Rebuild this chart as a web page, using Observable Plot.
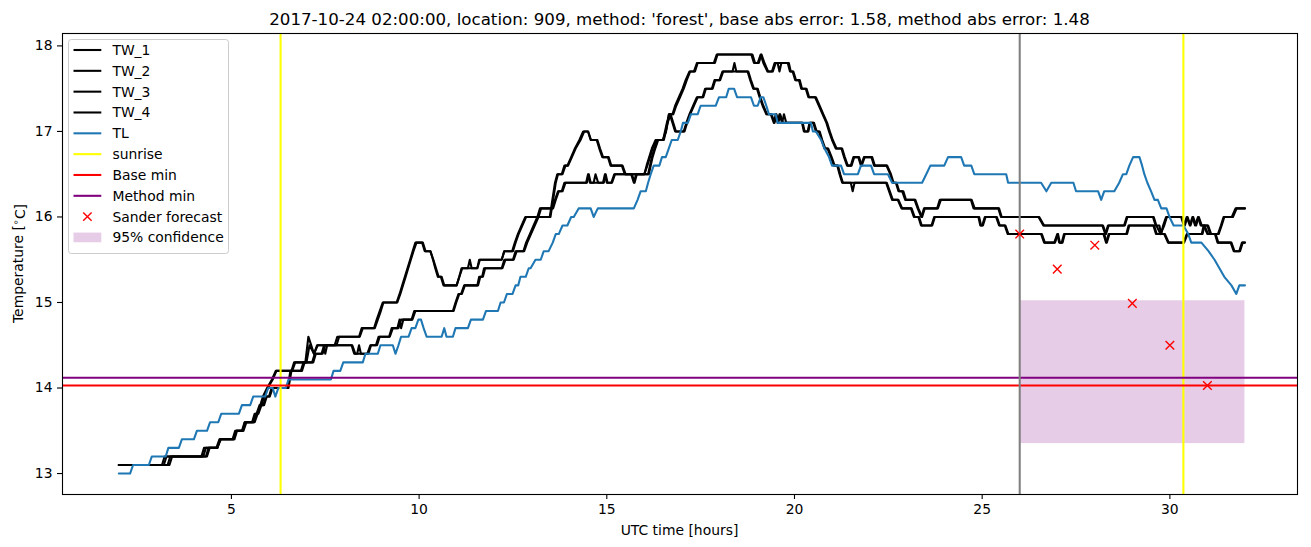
<!DOCTYPE html>
<html><head><meta charset="utf-8">
<script src="https://cdn.jsdelivr.net/npm/d3@7"></script>
<script src="https://cdn.jsdelivr.net/npm/@observablehq/plot@0.6"></script>
<style>body{margin:0;background:#fff;} svg{display:block}</style>
</head><body><div id="chart"></div>
<script>
// ---------- data (hour, temperature) ----------
const TW_1 = [[2.0,13.1],[3.15,13.1],[3.22,13.2],[4.2,13.2],[4.27,13.3],[4.62,13.3],[4.7,13.4],[5.05,13.4],[5.12,13.5],[5.3,13.5],[5.36,13.6],[5.55,13.6],[5.62,13.7],[5.7,13.7],[5.77,13.8],[5.84,13.9],[5.95,14.0],[6.08,14.1],[6.18,14.2],[6.6,14.2],[6.67,14.3],[6.97,14.3],[7.05,14.6],[7.2,14.4],[7.28,14.5],[7.45,14.5],[7.5,14.4],[7.55,14.5],[7.75,14.5],[7.82,14.6],[8.4,14.6],[8.47,14.7],[8.8,14.7],[8.87,14.8],[8.95,14.9],[9.03,15.0],[9.4,15.0],[9.48,15.1],[9.55,15.2],[9.62,15.3],[9.69,15.4],[9.76,15.5],[9.83,15.6],[9.9,15.7],[10.1,15.7],[10.17,15.6],[10.3,15.6],[10.37,15.5],[10.43,15.4],[10.5,15.3],[10.58,15.3],[10.65,15.2],[11.0,15.2],[11.07,15.3],[11.13,15.4],[11.55,15.4],[11.62,15.5],[12.2,15.5],[12.27,15.6],[12.5,15.6],[12.57,15.7],[12.65,15.8],[12.75,15.9],[12.85,16.0],[13.5,16.0],[13.57,16.2],[13.64,16.4],[13.7,16.5],[13.8,16.5],[13.87,16.6],[13.95,16.6],[14.05,16.7],[14.15,16.8],[14.27,16.9],[14.37,17.0],[14.5,17.0],[14.57,16.9],[14.75,16.9],[14.82,16.8],[14.9,16.7],[15.05,16.7],[15.12,16.6],[15.4,16.6],[15.48,16.5],[16.0,16.5],[16.06,16.6],[16.13,16.7],[16.2,16.8],[16.3,16.9],[16.5,16.9],[16.57,17.0],[16.65,17.2],[16.75,17.2],[16.82,17.3],[16.92,17.4],[17.02,17.5],[17.1,17.6],[17.2,17.7],[17.32,17.7],[17.4,17.8],[17.85,17.8],[17.93,17.9],[18.85,17.9],[18.92,17.8],[19.02,17.8],[19.1,17.9],[19.17,17.8],[19.28,17.7],[19.4,17.7],[19.47,17.8],[19.55,17.8],[19.6,17.7],[19.65,17.8],[19.82,17.8],[19.88,17.7],[19.95,17.7],[20.02,17.6],[20.12,17.6],[20.18,17.5],[20.3,17.5],[20.37,17.4],[20.55,17.4],[20.65,17.3],[20.75,17.2],[20.85,17.1],[20.92,17.0],[21.0,16.9],[21.1,16.8],[21.25,16.8],[21.32,16.7],[21.4,16.6],[21.5,16.6],[21.57,16.7],[21.7,16.7],[21.77,16.6],[21.85,16.7],[22.05,16.7],[22.12,16.6],[22.45,16.6],[22.55,16.5],[22.62,16.4],[22.7,16.4],[22.77,16.3],[22.87,16.3],[22.95,16.2],[23.2,16.2],[23.28,16.1],[23.38,16.0],[23.45,16.1],[23.8,16.1],[23.87,16.2],[24.7,16.2],[24.77,16.1],[25.43,16.1],[25.5,16.0],[26.5,16.0],[26.63,15.9],[28.2,15.9],[28.28,15.8],[28.35,15.9],[28.8,15.9],[28.87,16.0],[29.55,16.0],[29.62,15.9],[29.72,15.9],[29.77,15.8],[29.82,15.9],[29.9,16.0],[30.3,16.0],[30.37,15.9],[30.45,16.0],[30.53,15.9],[30.6,16.0],[30.67,15.9],[30.75,16.0],[30.82,15.9],[31.0,15.9],[31.07,15.8],[31.3,15.8],[31.38,15.9],[31.45,16.0],[31.65,16.0],[31.75,16.1],[32.0,16.1]];

const TW_2 = [[2.0,13.1],[3.2,13.1],[3.27,13.2],[4.25,13.2],[4.32,13.3],[4.62,13.3],[4.72,13.4],[5.08,13.4],[5.15,13.5],[5.32,13.5],[5.4,13.6],[5.58,13.6],[5.65,13.7],[5.72,13.7],[5.8,13.8],[5.87,13.9],[5.97,14.0],[6.1,14.1],[6.2,14.2],[6.62,14.2],[6.7,14.3],[7.0,14.3],[7.08,14.5],[7.2,14.4],[7.3,14.5],[7.8,14.5],[7.87,14.6],[8.42,14.6],[8.5,14.7],[8.82,14.7],[8.9,14.8],[8.98,14.9],[9.05,15.0],[9.42,15.0],[9.5,15.1],[9.57,15.2],[9.64,15.3],[9.71,15.4],[9.78,15.5],[9.85,15.6],[9.93,15.7],[10.08,15.7],[10.15,15.6],[10.3,15.6],[10.38,15.5],[10.45,15.4],[10.52,15.3],[10.6,15.3],[10.67,15.2],[11.0,15.2],[11.07,15.3],[11.15,15.4],[11.3,15.4],[11.35,15.5],[11.4,15.4],[11.55,15.4],[11.6,15.5],[12.2,15.5],[12.27,15.6],[12.48,15.6],[12.55,15.7],[12.63,15.8],[12.73,15.9],[12.83,16.0],[13.48,16.0],[13.55,16.2],[13.62,16.4],[13.68,16.5],[13.82,16.5],[13.9,16.6],[13.97,16.6],[14.07,16.7],[14.17,16.8],[14.3,16.9],[14.4,17.0],[14.5,17.0],[14.58,16.9],[14.73,16.9],[14.8,16.8],[14.88,16.7],[15.03,16.7],[15.1,16.6],[15.42,16.6],[15.5,16.5],[16.0,16.5],[16.08,16.6],[16.15,16.7],[16.22,16.8],[16.32,16.9],[16.5,16.9],[16.58,17.0],[16.66,17.2],[16.77,17.2],[16.85,17.3],[16.95,17.4],[17.05,17.5],[17.13,17.6],[17.22,17.7],[17.35,17.7],[17.42,17.8],[17.88,17.8],[17.95,17.9],[18.88,17.9],[18.95,17.8],[19.05,17.8],[19.12,17.9],[19.2,17.8],[19.3,17.7],[19.42,17.7],[19.5,17.8],[19.85,17.8],[19.9,17.7],[19.97,17.7],[20.04,17.6],[20.14,17.6],[20.2,17.5],[20.32,17.5],[20.39,17.4],[20.57,17.4],[20.67,17.3],[20.77,17.2],[20.87,17.1],[20.94,17.0],[21.02,16.9],[21.12,16.8],[21.27,16.8],[21.34,16.7],[21.42,16.6],[21.52,16.6],[21.59,16.7],[21.72,16.7],[21.79,16.6],[21.87,16.7],[22.07,16.7],[22.14,16.6],[22.47,16.6],[22.57,16.5],[22.64,16.4],[22.72,16.4],[22.79,16.3],[22.9,16.3],[22.97,16.2],[23.22,16.2],[23.3,16.1],[23.4,16.0],[23.47,16.1],[23.82,16.1],[23.9,16.2],[24.72,16.2],[24.8,16.1],[25.45,16.1],[25.52,16.0],[26.52,16.0],[26.65,15.9],[28.22,15.9],[28.3,15.8],[28.37,15.9],[28.78,15.9],[28.85,16.0],[29.57,16.0],[29.64,15.9],[29.75,15.8],[29.85,15.9],[29.92,16.0],[30.32,16.0],[30.4,15.9],[30.47,16.0],[30.55,15.9],[30.62,16.0],[30.7,15.9],[30.77,16.0],[30.85,15.9],[31.02,15.9],[31.1,15.8],[31.28,15.8],[31.36,15.9],[31.43,16.0],[31.68,16.0],[31.78,16.1],[32.0,16.1]];

const TW_3 = [[2.0,13.1],[3.3,13.1],[3.37,13.2],[4.32,13.2],[4.39,13.3],[4.6,13.3],[4.68,13.4],[5.03,13.4],[5.1,13.5],[5.28,13.5],[5.35,13.6],[5.6,13.6],[5.67,13.7],[5.75,13.8],[5.85,13.8],[5.92,13.9],[6.0,13.9],[6.07,14.0],[6.5,14.0],[6.57,14.2],[6.85,14.2],[6.92,14.3],[7.15,14.3],[7.22,14.4],[7.4,14.4],[7.47,14.5],[8.2,14.5],[8.27,14.4],[8.35,14.4],[8.4,14.5],[8.45,14.4],[8.62,14.4],[8.7,14.5],[8.85,14.5],[8.92,14.6],[9.2,14.6],[9.27,14.7],[9.42,14.7],[9.48,14.8],[9.52,14.7],[9.58,14.8],[9.8,14.8],[9.87,14.9],[10.9,14.9],[10.97,15.0],[11.05,15.1],[11.12,15.1],[11.2,15.2],[11.55,15.2],[11.6,15.3],[11.68,15.3],[11.73,15.4],[12.2,15.4],[12.27,15.5],[12.5,15.5],[12.57,15.6],[12.78,15.6],[12.85,15.7],[12.95,15.8],[13.05,15.9],[13.15,16.0],[13.22,16.1],[13.55,16.1],[13.62,16.2],[13.7,16.3],[13.8,16.3],[13.87,16.4],[14.45,16.4],[14.5,16.5],[14.55,16.4],[14.65,16.4],[14.7,16.5],[14.77,16.4],[14.9,16.4],[14.95,16.5],[15.0,16.4],[15.12,16.4],[15.2,16.5],[15.65,16.5],[15.72,16.4],[15.78,16.5],[16.1,16.5],[16.15,16.6],[16.2,16.7],[16.27,16.8],[16.35,16.9],[16.5,16.9],[16.6,17.1],[16.68,17.2],[16.75,17.1],[16.82,17.0],[17.05,17.0],[17.12,17.1],[17.2,17.2],[17.3,17.3],[17.4,17.4],[17.55,17.4],[17.62,17.5],[17.8,17.5],[17.87,17.6],[18.0,17.6],[18.08,17.7],[18.35,17.7],[18.4,17.8],[18.45,17.7],[18.75,17.7],[18.82,17.6],[18.9,17.5],[19.0,17.5],[19.07,17.4],[19.15,17.3],[19.25,17.2],[19.37,17.2],[19.45,17.1],[19.5,17.2],[19.55,17.1],[19.6,17.2],[19.67,17.1],[19.72,17.2],[19.78,17.1],[20.2,17.1],[20.25,17.0],[20.35,17.0],[20.4,17.1],[20.5,17.1],[20.57,17.0],[20.65,17.0],[20.72,16.9],[20.8,16.8],[20.88,16.8],[20.97,16.7],[21.05,16.6],[21.14,16.6],[21.2,16.5],[21.27,16.4],[21.5,16.4],[21.55,16.3],[21.6,16.4],[22.44,16.4],[22.52,16.3],[22.6,16.2],[22.75,16.2],[22.85,16.1],[23.1,16.1],[23.18,16.0],[23.3,16.0],[23.37,15.9],[23.65,15.9],[23.72,16.0],[24.9,16.0],[24.95,15.9],[25.0,15.9],[25.07,16.0],[25.37,16.0],[25.45,15.9],[25.6,15.9],[25.68,15.8],[26.57,15.8],[26.65,15.7],[26.92,15.7],[27.0,15.8],[27.05,15.7],[27.12,15.7],[27.18,15.8],[28.23,15.8],[28.3,15.7],[28.37,15.8],[28.84,15.8],[28.9,15.9],[29.56,15.9],[29.63,15.8],[29.85,15.8],[29.95,15.7],[30.36,15.7],[30.45,15.8],[30.85,15.8],[30.9,15.9],[31.0,15.8],[31.2,15.8],[31.27,15.7],[31.62,15.7],[31.7,15.6],[31.85,15.6],[31.92,15.7],[32.0,15.7]];

const TW_4 = [[2.0,13.1],[3.35,13.1],[3.42,13.2],[4.35,13.2],[4.42,13.3],[4.63,13.3],[4.7,13.4],[5.06,13.4],[5.13,13.5],[5.3,13.5],[5.38,13.6],[5.62,13.6],[5.7,13.7],[5.78,13.8],[5.87,13.8],[5.94,13.9],[6.02,13.9],[6.1,14.0],[6.52,14.0],[6.6,14.2],[6.88,14.2],[6.95,14.3],[7.18,14.3],[7.25,14.4],[7.43,14.4],[7.5,14.5],[8.22,14.5],[8.3,14.4],[8.65,14.4],[8.72,14.5],[8.88,14.5],[8.95,14.6],[9.22,14.6],[9.3,14.7],[9.45,14.7],[9.52,14.8],[9.82,14.8],[9.9,14.9],[10.92,14.9],[10.99,15.0],[11.07,15.1],[11.14,15.1],[11.22,15.2],[11.57,15.2],[11.63,15.3],[11.7,15.3],[11.76,15.4],[12.22,15.4],[12.3,15.5],[12.52,15.5],[12.6,15.6],[12.8,15.6],[12.88,15.7],[12.98,15.8],[13.08,15.9],[13.18,16.0],[13.25,16.1],[13.57,16.1],[13.64,16.2],[13.72,16.3],[13.82,16.3],[13.9,16.4],[14.47,16.4],[14.52,16.5],[14.57,16.4],[14.92,16.4],[14.97,16.5],[15.02,16.4],[15.14,16.4],[15.22,16.5],[15.67,16.5],[15.74,16.4],[15.8,16.5],[16.12,16.5],[16.17,16.6],[16.22,16.7],[16.29,16.8],[16.37,16.9],[16.52,16.9],[16.62,17.1],[16.7,17.2],[16.77,17.1],[16.84,17.0],[17.07,17.0],[17.14,17.1],[17.22,17.2],[17.32,17.3],[17.42,17.4],[17.57,17.4],[17.64,17.5],[17.82,17.5],[17.89,17.6],[18.02,17.6],[18.1,17.7],[18.77,17.7],[18.84,17.6],[18.92,17.5],[19.02,17.5],[19.09,17.4],[19.17,17.3],[19.27,17.2],[19.39,17.2],[19.47,17.1],[19.52,17.2],[19.57,17.1],[19.62,17.2],[19.69,17.1],[20.22,17.1],[20.27,17.0],[20.37,17.0],[20.42,17.1],[20.52,17.1],[20.59,17.0],[20.67,17.0],[20.74,16.9],[20.82,16.8],[20.9,16.8],[20.99,16.7],[21.07,16.6],[21.16,16.6],[21.22,16.5],[21.29,16.4],[22.46,16.4],[22.54,16.3],[22.62,16.2],[22.77,16.2],[22.87,16.1],[23.12,16.1],[23.2,16.0],[23.32,16.0],[23.39,15.9],[23.67,15.9],[23.74,16.0],[24.92,16.0],[24.97,15.9],[25.02,15.9],[25.09,16.0],[25.39,16.0],[25.47,15.9],[25.62,15.9],[25.7,15.8],[26.59,15.8],[26.67,15.7],[26.94,15.7],[27.02,15.8],[27.07,15.7],[27.14,15.7],[27.2,15.8],[28.25,15.8],[28.32,15.7],[28.39,15.8],[28.86,15.8],[28.92,15.9],[29.58,15.9],[29.65,15.8],[29.87,15.8],[29.97,15.7],[30.38,15.7],[30.47,15.8],[30.87,15.8],[30.92,15.9],[31.02,15.8],[31.22,15.8],[31.29,15.7],[31.64,15.7],[31.72,15.6],[31.87,15.6],[31.94,15.7],[32.0,15.7]];

const TL = [[2.0,13.0],[2.3,13.0],[2.38,13.1],[2.8,13.1],[2.88,13.2],[3.25,13.2],[3.32,13.3],[3.6,13.3],[3.68,13.4],[4.0,13.4],[4.08,13.5],[4.35,13.5],[4.43,13.6],[4.65,13.6],[4.73,13.7],[5.2,13.7],[5.28,13.8],[5.5,13.8],[5.58,13.9],[5.9,13.9],[5.98,14.0],[6.1,14.0],[6.17,13.9],[6.25,14.0],[6.45,14.0],[6.52,14.1],[7.65,14.1],[7.72,14.2],[7.9,14.2],[7.98,14.3],[8.5,14.3],[8.57,14.4],[8.9,14.4],[8.97,14.5],[9.3,14.5],[9.37,14.4],[9.45,14.5],[9.52,14.6],[9.72,14.6],[9.8,14.7],[9.9,14.7],[9.98,14.8],[10.05,14.8],[10.12,14.7],[10.2,14.6],[10.6,14.6],[10.67,14.7],[10.73,14.6],[10.9,14.6],[10.97,14.7],[11.3,14.7],[11.38,14.8],[11.7,14.8],[11.78,14.9],[12.1,14.9],[12.17,15.0],[12.26,15.0],[12.34,15.1],[12.49,15.1],[12.57,15.2],[12.64,15.2],[12.7,15.3],[12.84,15.3],[12.92,15.4],[12.97,15.4],[13.1,15.5],[13.24,15.5],[13.32,15.6],[13.45,15.6],[13.56,15.7],[13.64,15.8],[13.72,15.8],[13.82,15.9],[13.95,15.9],[14.05,16.0],[14.12,16.0],[14.25,16.1],[14.57,16.1],[14.65,16.0],[14.76,16.1],[15.72,16.1],[15.82,16.2],[15.9,16.3],[16.04,16.3],[16.1,16.4],[16.17,16.5],[16.25,16.6],[16.4,16.6],[16.47,16.7],[16.57,16.7],[16.65,16.8],[16.73,16.9],[16.89,16.9],[16.97,17.0],[17.03,17.1],[17.16,17.1],[17.24,17.2],[17.42,17.2],[17.5,17.3],[17.9,17.3],[17.99,17.4],[18.18,17.4],[18.25,17.5],[18.39,17.5],[18.47,17.4],[18.84,17.4],[18.92,17.3],[19.02,17.3],[19.1,17.4],[19.17,17.4],[19.25,17.3],[19.32,17.2],[19.5,17.2],[19.55,17.1],[20.44,17.1],[20.49,17.0],[20.57,17.0],[20.71,16.9],[20.8,16.8],[20.92,16.7],[21.0,16.6],[21.24,16.6],[21.32,16.5],[21.69,16.5],[21.77,16.6],[22.04,16.6],[22.12,16.5],[22.49,16.5],[22.6,16.4],[23.4,16.4],[23.51,16.5],[23.62,16.6],[23.99,16.6],[24.09,16.7],[24.44,16.7],[24.52,16.6],[24.71,16.6],[24.79,16.5],[25.64,16.5],[25.69,16.4],[26.57,16.4],[26.71,16.3],[26.84,16.4],[27.43,16.4],[27.5,16.3],[28.09,16.3],[28.17,16.2],[28.25,16.3],[28.52,16.3],[28.65,16.4],[28.75,16.5],[28.84,16.5],[28.92,16.6],[29.02,16.7],[29.19,16.7],[29.26,16.6],[29.32,16.5],[29.4,16.4],[29.5,16.3],[29.59,16.2],[29.68,16.2],[29.77,16.1],[29.91,16.1],[29.99,16.0],[30.1,15.9],[30.36,15.9],[30.49,15.8],[30.57,15.7],[30.84,15.7],[31.03,15.6],[31.19,15.5],[31.32,15.4],[31.45,15.3],[31.64,15.2],[31.77,15.1],[31.85,15.2],[32.0,15.2]];

const sanderHours = [26, 27, 28, 29, 30, 31];
const sanderTemps = [15.80, 15.39, 15.67, 14.99, 14.50, 14.03];
const confHours = [26, 32];
const confTemps = [13.35, 15.02];
const sunriseHours = [6.31, 30.36];
const forecastHour = [26];
const baseMin = [14.03];
const methodMin = [14.12];
const xTicks = [5, 10, 15, 20, 25, 30];
const yTicks = [13, 14, 15, 16, 17, 18];
const titleText = "2017-10-24 02:00:00, location: 909, method: 'forest', base abs error: 1.58, method abs error: 1.48";

const twSeries = [["TW_1", TW_1], ["TW_2", TW_2], ["TW_3", TW_3], ["TW_4", TW_4]];
const toRows = pts => pts.map(([h, v]) => ({h, v}));
const sander = sanderHours.map((h, i) => ({h, v: sanderTemps[i]}));
const band = [{x1: confHours[0], x2: confHours[1], y1: confTemps[0], y2: confTemps[1]}];
const LW = 2.08;

const chart = Plot.plot({
  width: 1311, height: 547,
  marginLeft: 62, marginRight: 14, marginTop: 33, marginBottom: 53,
  style: {fontFamily: "'DejaVu Sans', sans-serif", fontSize: "13.9px", color: "black", background: "white", overflow: "visible"},
  x: {domain: [0.5, 33.4]},
  y: {domain: [12.755, 18.145]},
  marks: [
    Plot.rect(band, {x1: "x1", x2: "x2", y1: "y1", y2: "y2", fill: "purple", fillOpacity: 0.2}),
    ...twSeries.map(([name, pts]) => Plot.line(toRows(pts), {x: "h", y: "v", stroke: "black", strokeWidth: LW})),
    Plot.line(toRows(TL), {x: "h", y: "v", stroke: "#1f77b4", strokeWidth: LW}),
    Plot.ruleX(sunriseHours, {stroke: "yellow", strokeWidth: LW}),
    Plot.ruleY(baseMin, {stroke: "red", strokeWidth: LW}),
    Plot.ruleY(methodMin, {stroke: "purple", strokeWidth: LW}),
    Plot.ruleX(forecastHour, {stroke: "gray", strokeWidth: LW}),
    Plot.dot(sander, {x: "h", y: "v", symbol: "times", r: 4, stroke: "red", strokeWidth: 1.4}),
    Plot.axisX({ticks: xTicks, tickFormat: d3.format("d"), tickSize: 5, tickPadding: 5, label: null, strokeWidth: 1.1}),
    Plot.axisY({ticks: yTicks, tickFormat: d3.format("d"), tickSize: 5, tickPadding: 5, label: null, strokeWidth: 1.1}),
    Plot.frame({stroke: "black", strokeWidth: 1.1})
  ]
});
document.getElementById("chart").appendChild(chart);

const svg = d3.select(chart);
const F = "'DejaVu Sans', sans-serif";
// title
svg.append("text").attr("x", 679.5).attr("y", 24.5).attr("text-anchor", "middle")
  .style("font-family", F).style("font-size", "16.67px").attr("fill", "black").text(titleText);
// x label
svg.append("text").attr("x", 679.5).attr("y", 534.5).attr("text-anchor", "middle")
  .style("font-family", F).style("font-size", "13.9px").attr("fill", "black").text("UTC time [hours]");
// y label
const yl = svg.append("text").attr("transform", "translate(23,263.5) rotate(-90)").attr("text-anchor", "middle")
  .style("font-family", F).style("font-size", "13.9px").attr("fill", "black");
yl.append("tspan").text("Temperature [");
yl.append("tspan").attr("dy", "-0.45em").style("font-size", "9.7px").text("∘");
yl.append("tspan").attr("dy", "0.45em").text("C]");

// legend
const legendItems = [
  {label: "TW_1", kind: "line", color: "black"},
  {label: "TW_2", kind: "line", color: "black"},
  {label: "TW_3", kind: "line", color: "black"},
  {label: "TW_4", kind: "line", color: "black"},
  {label: "TL", kind: "line", color: "#1f77b4"},
  {label: "sunrise", kind: "line", color: "yellow"},
  {label: "Base min", kind: "line", color: "red"},
  {label: "Method min", kind: "line", color: "purple"},
  {label: "Sander forecast", kind: "x", color: "red"},
  {label: "95% confidence", kind: "patch", color: "purple"}
];
const lg = svg.append("g").attr("text-anchor", "start");
lg.append("rect").attr("x", 68.5).attr("y", 39.5).attr("width", 160).attr("height", 214)
  .attr("rx", 2.8).attr("fill", "white").attr("fill-opacity", 0.8).attr("stroke", "#cccccc").attr("stroke-width", 1);
legendItems.forEach((it, i) => {
  const cy = 50 + i * 20.83;
  if (it.kind === "line") {
    lg.append("line").attr("x1", 73.5).attr("x2", 101.3).attr("y1", cy).attr("y2", cy)
      .attr("stroke", it.color).attr("stroke-width", LW);
  } else if (it.kind === "x") {
    const cx = 87.4, r = 4.2;
    lg.append("path").attr("d", `M${cx-r},${cy-r}L${cx+r},${cy+r}M${cx-r},${cy+r}L${cx+r},${cy-r}`)
      .attr("stroke", it.color).attr("stroke-width", 1.4).attr("fill", "none");
  } else {
    lg.append("rect").attr("x", 73.5).attr("y", cy - 4.9).attr("width", 27.8).attr("height", 9.7)
      .attr("fill", it.color).attr("fill-opacity", 0.2);
  }
  lg.append("text").attr("x", 112.4).attr("y", cy + 5).attr("text-anchor", "start")
    .style("font-family", F).style("font-size", "13.9px").attr("fill", "black").text(it.label);
});
</script>
</body></html>
